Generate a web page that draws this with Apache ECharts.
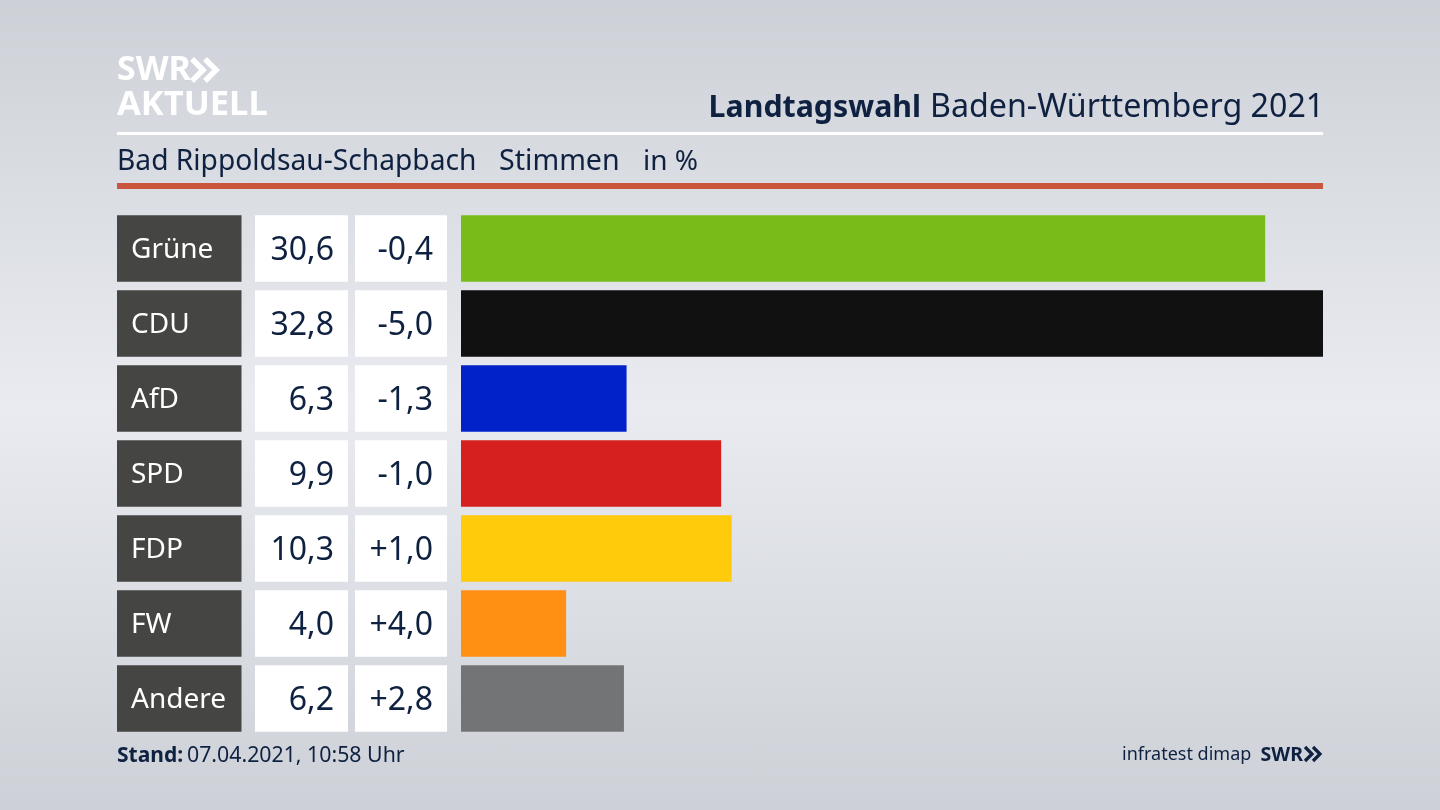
<!DOCTYPE html>
<html>
<head>
<meta charset="utf-8">
<title>Landtagswahl Baden-Württemberg 2021</title>
<script src="https://cdn.jsdelivr.net/npm/echarts@6/dist/echarts.min.js"></script>
<style>
  html, body { margin: 0; padding: 0; }
  body { background: linear-gradient(180deg, #cdd1d7 0%, #e9ebf0 50%, #cdd1d7 100%); }
  #chart { width: 1440px; height: 810px; }
</style>
</head>
<body>
<div id="chart"></div>
<script>
  // Daten
  var parties = ['Grüne', 'CDU', 'AfD', 'SPD', 'FDP', 'FW', 'Andere'];
  var shares = ['30,6', '32,8', '6,3', '9,9', '10,3', '4,0', '6,2'];
  var changes = ['-0,4', '-5,0', '-1,3', '-1,0', '+1,0', '+4,0', '+2,8'];
  var barValues = [30.6, 32.8, 6.3, 9.9, 10.3, 4.0, 6.2];
  var barColors = ['#79bc1a', '#111111', '#0022c8', '#d6201f', '#ffcb0a', '#ff9013', '#737475'];

  var fontName = '"Noto Sans"';
  var navy = '#0f2140';

  var chart = echarts.init(document.getElementById('chart'));

  // Tabellenspalte links neben den Balken
  function columnAxis(labels, offset, width, color, bg, align, size) {
    return {
      type: 'category',
      inverse: true,
      position: 'left',
      data: parties,
      offset: offset,
      axisLine: { show: false },
      axisTick: { show: false },
      axisLabel: {
        formatter: function (value, index) { return '{t|' + labels[index] + '}'; },
        interval: 0,
        margin: 0,
        backgroundColor: bg,
        width: width,
        align: align,
        padding: align === 'left' ? [2, 0, 2, 14] : [2, 14, 2, 0],
        overflow: 'none',
        rich: {
          // Text sitzt im Original etwas tiefer als die Mitte
          t: {
            color: color,
            fontFamily: fontName,
            fontSize: size,
            height: 62.5,
            lineHeight: 62.5,
            padding: [4, 0, 0, 0]
          }
        }
      }
    };
  }

  function headerText(x, y, text, size, weight, color, align) {
    return {
      type: 'text',
      x: x,
      y: y,
      style: {
        text: text,
        font: weight + ' ' + size + 'px ' + fontName,
        fill: color,
        align: align || 'left',
        verticalAlign: 'middle'
      }
    };
  }

  function ruleLine(y, h, color) {
    return { type: 'rect', shape: { x: 117, y: y, width: 1206, height: h }, style: { fill: color } };
  }

  // Doppelpfeil vom SWR-Logo
  function chevron(x, y, w, h, lw, color) {
    return {
      type: 'polyline',
      shape: { points: [[x, y], [x + w, y + h / 2], [x, y + h]] },
      style: { stroke: color, lineWidth: lw, fill: null, lineJoin: 'miter' }
    };
  }

  var option = {
    animation: false,
    grid: { left: 461, top: 211, width: 862, height: 525, outerBoundsMode: 'none' },
    xAxis: { type: 'value', min: 0, max: 32.8, show: false },
    yAxis: [
      columnAxis(changes, 14, 78, navy, '#ffffff', 'right', 32),
      columnAxis(shares, 113, 79, navy, '#ffffff', 'right', 32),
      columnAxis(parties, 344, 110.5, '#ffffff', '#454543', 'left', 28)
    ],
    series: [{
      type: 'bar',
      yAxisIndex: 0,
      barWidth: 66.5,
      data: barValues,
      itemStyle: {
        color: function (p) { return barColors[p.dataIndex]; }
      },
      label: { show: false }
    }],
    graphic: [
      headerText(117, 70, 'SWR', 34, 'bold', '#ffffff'),
      chevron(192, 59, 11, 22, 5.5, '#ffffff'),
      chevron(205, 59, 11, 22, 5.5, '#ffffff'),
      headerText(117, 105, 'AKTUELL', 34.5, 'bold', '#ffffff'),
      ruleLine(132, 3, '#ffffff'),
      ruleLine(183, 6, '#c9563c'),
      headerText(930, 108, 'Baden-Württemberg 2021', 32.2, 'normal', navy),
      headerText(921, 108, 'Landtagswahl', 30.3, 'bold', navy, 'right'),
      headerText(117, 162, 'Bad Rippoldsau-Schapbach', 28.2, 'normal', navy),
      headerText(499, 162, 'Stimmen', 28.6, 'normal', navy),
      headerText(643, 162, 'in %', 28, 'normal', navy),
      headerText(117, 756, 'Stand:', 21, 'bold', navy),
      headerText(187, 756, '07.04.2021, 10:58 Uhr', 21.3, 'normal', navy),
      headerText(1122, 755, 'infratest dimap', 18, 'normal', navy),
      headerText(1303, 755, 'SWR', 19.5, 'bold', navy, 'right'),
      chevron(1305, 747, 7, 14, 3.2, navy),
      chevron(1313, 747, 7, 14, 3.2, navy)
    ]
  };
  chart.setOption(option);
</script>
</body>
</html>
